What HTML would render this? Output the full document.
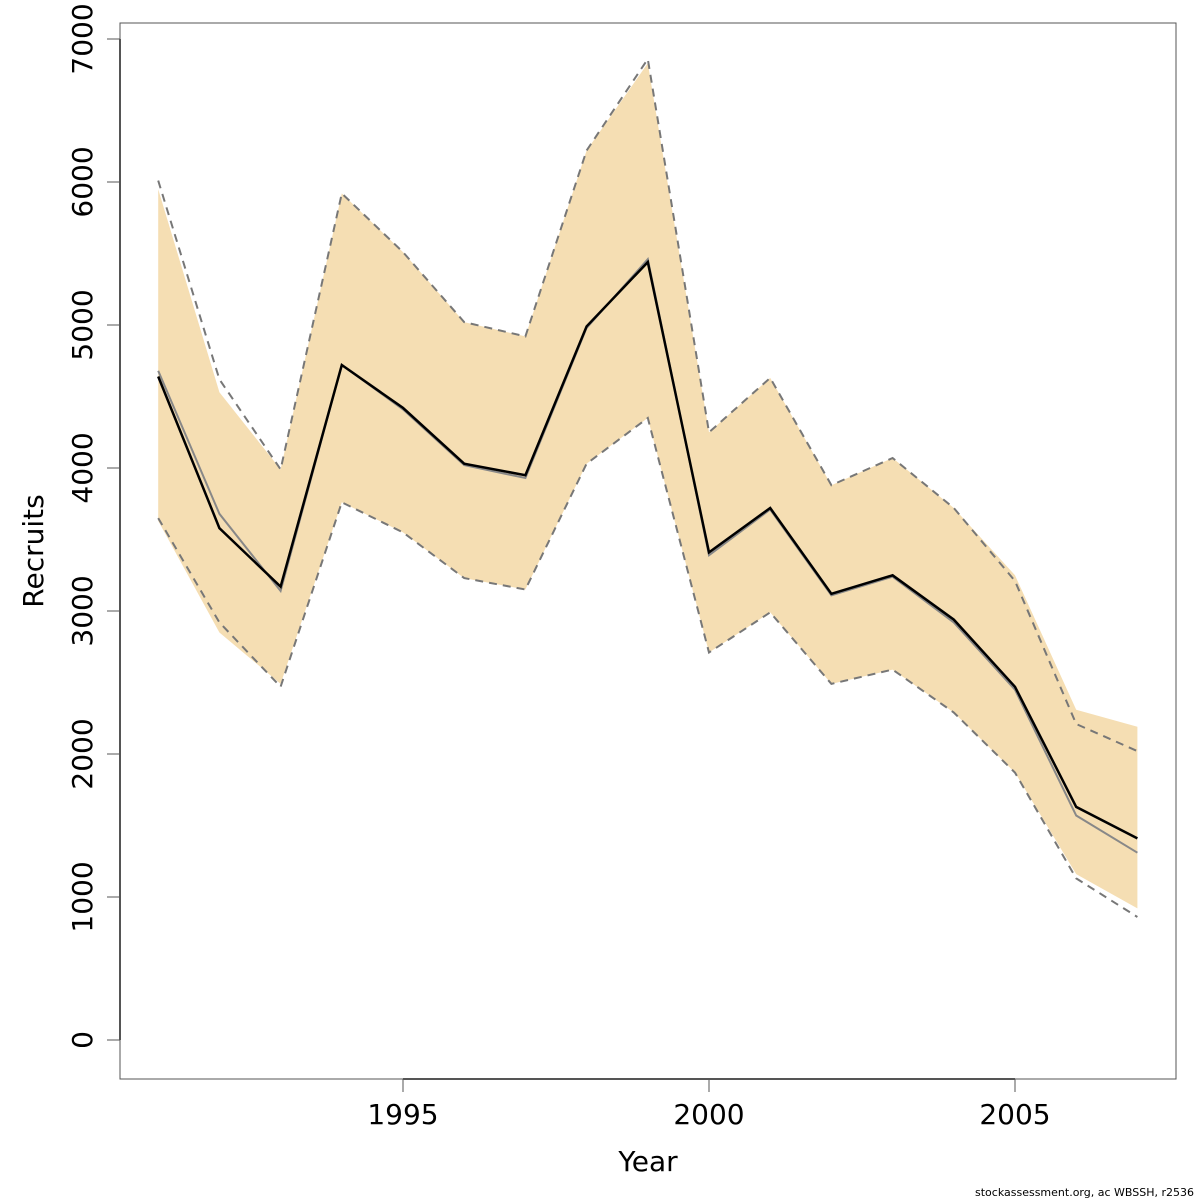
<!DOCTYPE html>
<html><head><meta charset="utf-8"><style>body{margin:0;background:#fff}svg{display:block;font-family:"DejaVu Sans","Liberation Sans",sans-serif}</style></head>
<body>
<svg id="chart" width="1200" height="1200" viewBox="0 0 1200 1200" xmlns="http://www.w3.org/2000/svg">
<rect x="120" y="23" width="1056" height="1056" fill="none" stroke="#555" stroke-width="1"/>
<g id="marks"></g>
<g id="axes"></g>
<text x="648" y="1171" font-size="28" text-anchor="middle">Year</text>
<text transform="translate(43,551) rotate(-90)" font-size="28" text-anchor="middle">Recruits</text>
<text x="1194" y="1196" font-size="11" text-anchor="end">stockassessment.org, ac  WBSSH, r2536</text>
</svg>
<script>
const years=[1991,1992,1993,1994,1995,1996,1997,1998,1999,2000,2001,2002,2003,2004,2005,2006,2007];
const est=[4640,3580,3170,4720,4420,4030,3950,4990,5440,3410,3720,3120,3250,2940,2470,1630,1410];
const est2=[4680,3680,3140,4720,4410,4020,3930,4980,5460,3390,3710,3110,3240,2920,2450,1570,1310];
const dashHi=[6010,4620,3990,5920,5510,5020,4920,6220,6860,4250,4630,3880,4070,3720,3210,2210,2020];
const dashLo=[3650,2920,2470,3760,3550,3230,3150,4030,4350,2710,2990,2490,2590,2290,1870,1130,860];
const bandHi=[5950,4530,3990,5920,5510,5020,4920,6220,6830,4250,4630,3880,4070,3720,3250,2310,2190];
const bandLo=[3630,2850,2490,3760,3550,3230,3150,4030,4350,2710,2990,2490,2590,2290,1870,1160,920];
const yTicks=[0,1000,2000,3000,4000,5000,6000,7000];
const xTicks=[1995,2000,2005];
const X=v=>403+(v-1995)*61.2;
const Y=v=>1040-v*0.143;
const NS="http://www.w3.org/2000/svg";
const marks=document.getElementById('marks'),axes=document.getElementById('axes');
function mk(tag,attrs,parent){const e=document.createElementNS(NS,tag);for(const k in attrs)e.setAttribute(k,attrs[k]);parent.appendChild(e);return e;}
const pts=a=>a.map((v,i)=>X(years[i]).toFixed(1)+','+Y(v).toFixed(1));
let band=mk('polygon',{points:pts(bandHi).concat(pts(bandLo).reverse()).join(' '),fill:'#f5deb3',stroke:'none'},marks);


[[dashHi,'upper-ci-line'],[dashLo,'lower-ci-line']].forEach(([a,n])=>{
 let l=mk('polyline',{points:pts(a).join(' '),fill:'none',stroke:'#777','stroke-width':2,'stroke-dasharray':'8,6'},marks);
 
 
});
let g2=mk('polyline',{points:pts(est2).join(' '),fill:'none',stroke:'#888','stroke-width':2},marks);


let g1=mk('polyline',{points:pts(est).join(' '),fill:'none',stroke:'#000','stroke-width':2.5},marks);


let ya=mk('line',{x1:120,x2:120,y1:Y(0),y2:Y(7000),stroke:'#555','stroke-width':2},axes);


yTicks.forEach(t=>{
 let tk=mk('line',{x1:107,x2:120,y1:Y(t),y2:Y(t),stroke:'#555','stroke-width':1},axes);
 
 
 let tx=mk('text',{transform:`translate(92,${Y(t)}) rotate(-90)`,'font-size':28,'text-anchor':'middle'},axes);
 tx.textContent=t;
 
 
});
let xa=mk('line',{x1:X(1995),x2:X(2005),y1:1079,y2:1079,stroke:'#555','stroke-width':2},axes);


xTicks.forEach(t=>{
 let tk=mk('line',{x1:X(t),x2:X(t),y1:1079,y2:1092,stroke:'#555','stroke-width':1},axes);
 
 
 let tx=mk('text',{x:X(t),y:1124,'font-size':28,'text-anchor':'middle'},axes);
 tx.textContent=t;
 
 
});
</script>
</body></html>
